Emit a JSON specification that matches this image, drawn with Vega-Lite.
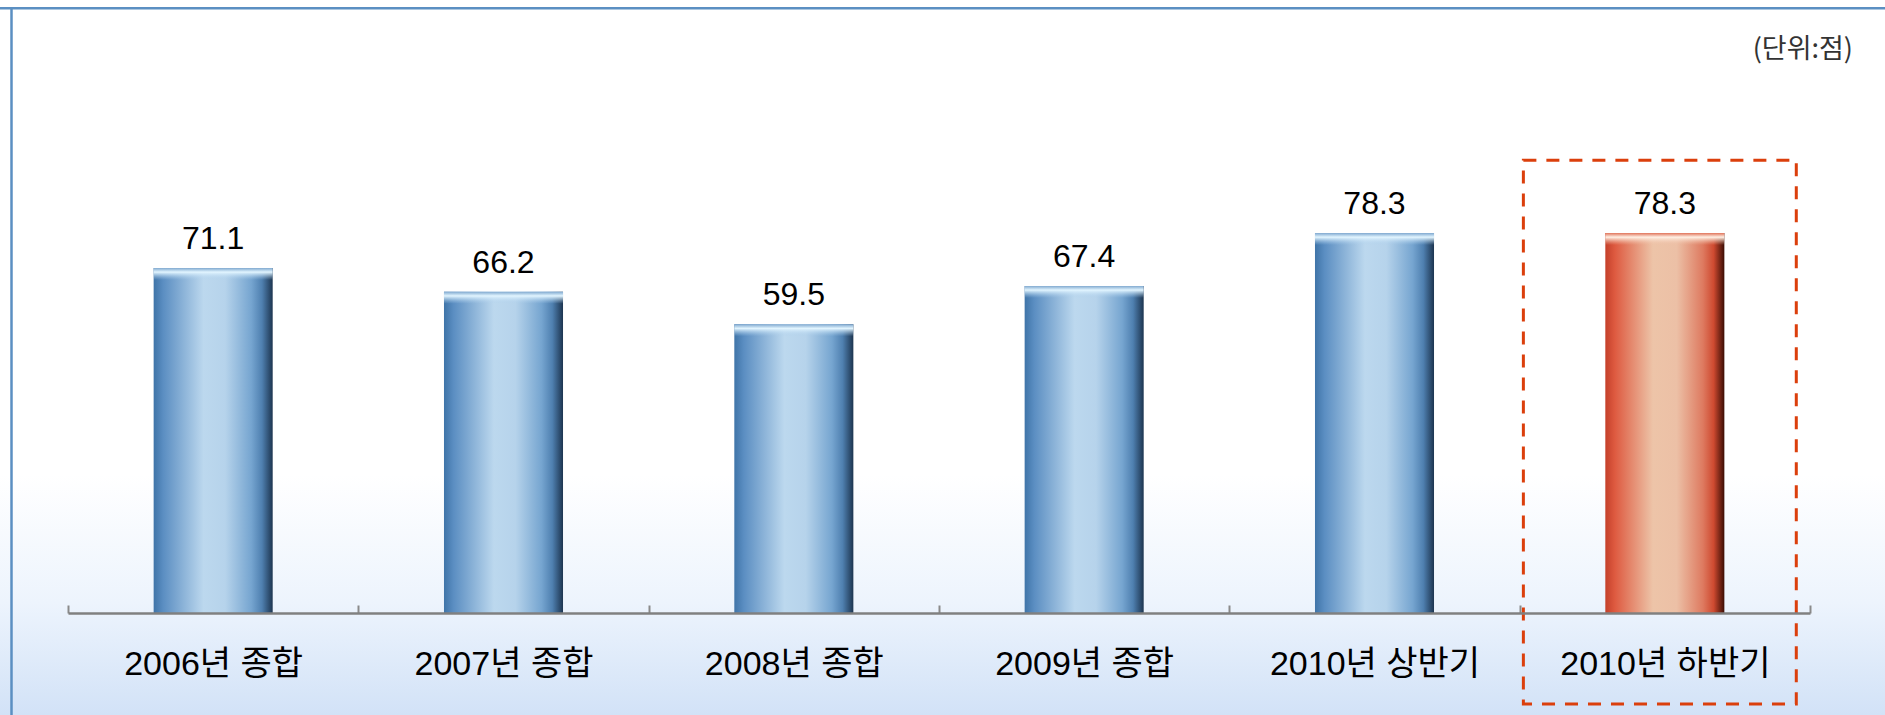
{
  "$schema": "https://vega.github.io/schema/vega-lite/v6.json",
  "width": 1885,
  "height": 707,
  "autosize": "none",
  "padding": {"left": 0, "top": 8, "right": 0, "bottom": 0},
  "background": "#ffffff",
  "config": {"view": {"stroke": null}},
  "title": {
    "text": "(단위:점)",
    "anchor": "end",
    "frame": "group",
    "font": "Noto Sans CJK KR",
    "fontSize": 27,
    "fontWeight": "normal",
    "color": "#333333",
    "baseline": "top",
    "offset": -57,
    "dx": -32
  },
  "data": {
    "values": [
      {"label": "2006년 종합", "value": 71.1, "highlight": false},
      {"label": "2007년 종합", "value": 66.2, "highlight": false},
      {"label": "2008년 종합", "value": 59.5, "highlight": false},
      {"label": "2009년 종합", "value": 67.4, "highlight": false},
      {"label": "2010년 상반기", "value": 78.3, "highlight": false},
      {"label": "2010년 하반기", "value": 78.3, "highlight": true}
    ]
  },
  "encoding": {
    "x": {
      "field": "label",
      "type": "nominal",
      "sort": null,
      "scale": {"range": [68, 1810], "paddingInner": 0, "paddingOuter": 0},
      "axis": {
        "title": null,
        "orient": "bottom",
        "offset": -102,
        "zindex": 1,
        "labelAngle": 0,
        "labelFont": "Liberation Sans, Noto Sans CJK KR",
        "labelFontSize": 34,
        "labelColor": "#000000",
        "labelPadding": 42,
        "labelLimit": 0,
        "labelBaseline": "top",
        "tickBand": "extent",
        "tickSize": -8,
        "tickColor": "#8a8a8a",
        "tickWidth": 2,
        "domainColor": "#808080",
        "domainWidth": 2.5,
        "grid": false
      }
    }
  },
  "layer": [
    {
      "data": {"values": [{"part": "frame"}]},
      "mark": {
        "type": "rect",
        "color": {
          "gradient": "linear",
          "x1": 0, "y1": 0, "x2": 0, "y2": 1,
          "stops": [
            {"offset": 0, "color": "#ffffff"},
            {"offset": 0.66, "color": "#ffffff"},
            {"offset": 0.84, "color": "#edf4fd"},
            {"offset": 1, "color": "#d2e2f7"}
          ]
        }
      },
      "encoding": {
        "x": null,
        "y": {
          "datum": 124.66,
          "type": "quantitative",
          "scale": {"domain": [-21.02, 124.66], "nice": false, "zero": false},
          "axis": {
            "orient": "left",
            "offset": -11,
            "zindex": 1,
            "title": null,
            "labels": false,
            "ticks": false,
            "grid": false,
            "domainColor": "#5b8fc2",
            "domainWidth": 2.5
          }
        },
        "y2": {"datum": -21.02}
      }
    },
    {
      "data": {"values": [{"part": "frame"}]},
      "mark": {"type": "rule", "color": "#5b8fc2", "strokeWidth": 2.5},
      "encoding": {
        "x": null,
        "y": {"datum": 124.6, "type": "quantitative"}
      }
    },
    {
      "transform": [{"filter": "!datum.highlight"}],
      "mark": {
        "type": "bar",
        "width": {"band": 0.41},
        "color": {
          "gradient": "linear",
          "x1": 0, "y1": 0, "x2": 1, "y2": 0,
          "stops": [
            {"offset": 0, "color": "#3f74a8"},
            {"offset": 0.08, "color": "#5b8ec2"},
            {"offset": 0.42, "color": "#bcd8ee"},
            {"offset": 0.6, "color": "#b6d3eb"},
            {"offset": 0.82, "color": "#76a5d0"},
            {"offset": 0.91, "color": "#4f80b0"},
            {"offset": 1, "color": "#1d3550"}
          ]
        }
      },
      "encoding": {
        "y": {"field": "value", "type": "quantitative"}
      }
    },
    {
      "transform": [{"filter": "datum.highlight"}],
      "mark": {
        "type": "bar",
        "width": {"band": 0.41},
        "color": {
          "gradient": "linear",
          "x1": 0, "y1": 0, "x2": 1, "y2": 0,
          "stops": [
            {"offset": 0, "color": "#c4402a"},
            {"offset": 0.08, "color": "#de5a40"},
            {"offset": 0.4, "color": "#edc4a8"},
            {"offset": 0.6, "color": "#ecc0a6"},
            {"offset": 0.82, "color": "#de7a60"},
            {"offset": 0.91, "color": "#cf4a30"},
            {"offset": 1, "color": "#3b0d04"}
          ]
        }
      },
      "encoding": {
        "y": {"field": "value", "type": "quantitative"}
      }
    },
    {
      "transform": [{"filter": "!datum.highlight"}],
      "mark": {
        "type": "bar",
        "width": {"band": 0.41},
        "yOffset": 0,
        "y2Offset": 12,
        "color": {
          "gradient": "linear",
          "x1": 0, "y1": 0, "x2": 0, "y2": 1,
          "stops": [
            {"offset": 0, "color": "#7fa8cf"},
            {"offset": 0.35, "color": "#e2f5ff"},
            {"offset": 1, "color": "rgba(170,205,235,0)"}
          ]
        }
      },
      "encoding": {
        "y": {"field": "value", "type": "quantitative"},
        "y2": {"field": "value"}
      }
    },
    {
      "transform": [{"filter": "datum.highlight"}],
      "mark": {
        "type": "bar",
        "width": {"band": 0.41},
        "yOffset": 0,
        "y2Offset": 12,
        "color": {
          "gradient": "linear",
          "x1": 0, "y1": 0, "x2": 0, "y2": 1,
          "stops": [
            {"offset": 0, "color": "#e0745a"},
            {"offset": 0.35, "color": "#fff0e4"},
            {"offset": 1, "color": "rgba(240,190,165,0)"}
          ]
        }
      },
      "encoding": {
        "y": {"field": "value", "type": "quantitative"},
        "y2": {"field": "value"}
      }
    },
    {
      "mark": {
        "type": "text",
        "baseline": "alphabetic",
        "dy": -19,
        "font": "Liberation Sans",
        "fontSize": 32,
        "color": "#000000"
      },
      "encoding": {
        "y": {"field": "value", "type": "quantitative"},
        "text": {"field": "value", "type": "quantitative", "format": ".1f"}
      }
    },
    {
      "transform": [{"filter": "datum.highlight"}],
      "mark": {
        "type": "bar",
        "width": {"band": 0.94},
        "xOffset": -5,
        "fill": "transparent",
        "stroke": "#db3f0c",
        "strokeWidth": 3,
        "strokeDash": [13, 10]
      },
      "encoding": {
        "y": {"datum": 93.3, "type": "quantitative"},
        "y2": {"datum": -18.75}
      }
    }
  ]
}
